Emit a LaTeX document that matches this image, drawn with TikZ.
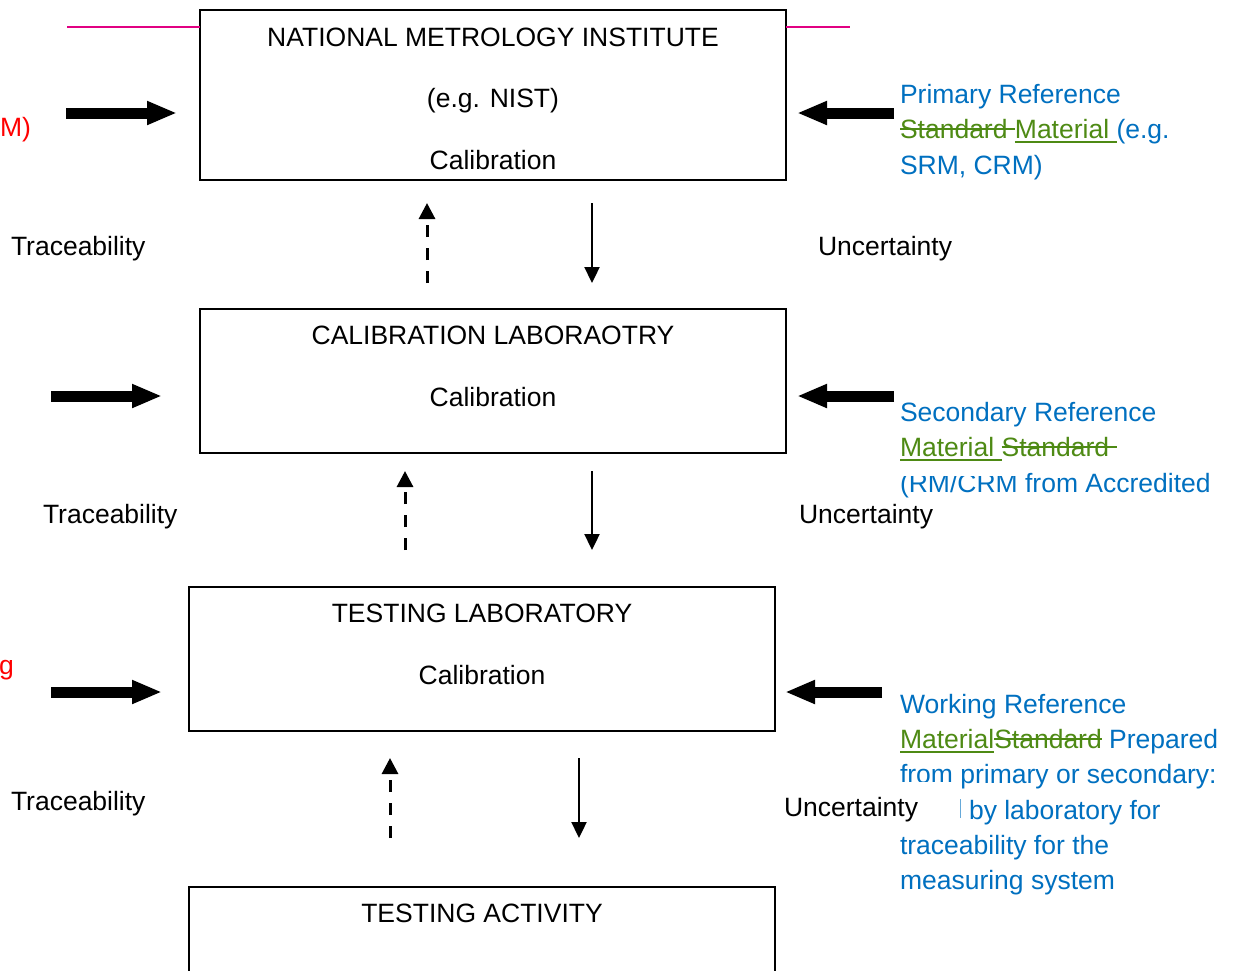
\documentclass[tikz,border=0pt]{standalone}
\usepackage{fontspec}
\setmainfont{Liberation Sans}
\usetikzlibrary{arrows.meta}
\definecolor{refblue}{RGB}{0,112,192}
\definecolor{refgreen}{RGB}{78,138,20}
\definecolor{refpink}{RGB}{225,0,130}
\definecolor{refred}{RGB}{255,0,0}
\newcommand\mystrike[1]{\setbox0\hbox{#1}\rlap{\raisebox{0.3em}{\rule{\wd0}{0.06em}}}\box0}
\newcommand\myunder[1]{\setbox0\hbox{#1}\rlap{\raisebox{-0.17em}{\rule{\wd0}{0.06em}}}\box0}
\begin{document}
\begin{tikzpicture}[x=1pt,y=-1pt,
  every node/.style={inner sep=0pt,outer sep=0pt,font=\fontsize{26.5}{35.5}\selectfont},
  box/.style={draw=black,line width=1.6pt,inner sep=0pt},
  txt/.style={anchor=base},
  ltxt/.style={anchor=base west},
  blue/.style={anchor=base west,text=refblue},
  bigarrow/.style={line width=11pt,-{Triangle[length=30pt,width=22pt]}},
  dasharrow/.style={line width=3pt,dash pattern=on 12pt off 11pt,-{Triangle[length=16pt,width=16pt]}},
  solidarrow/.style={line width=2.3pt,-{Triangle[length=16pt,width=15pt]}},
]
\useasboundingbox (0,0) rectangle (1238,970);
\fill[white] (0,0) rectangle (1238,970);

% boxes
\node[box,minimum width=586pt,minimum height=170pt,anchor=north west] (b1) at (200,10) {};
\node[box,minimum width=586pt,minimum height=144pt,anchor=north west] (b2) at (200,309) {};
\node[box,minimum width=586pt,minimum height=144pt,anchor=north west] (b3) at (189,587) {};
\begin{scope}
\clip (0,0) rectangle (1238,970);
\node[box,minimum width=586pt,minimum height=120pt,anchor=north west] (b4) at (189,887) {};
\end{scope}

% box texts
\node[txt] (t1a) at (493,46) {NATIONAL METROLOGY INSTITUTE};
\node[txt] (t1b) at (493,107) {(e.g. NIST)};
\node[txt] (t1c) at (493,169) {Calibration};
\node[txt] (t2a) at (493,344) {CALIBRATION LABORAOTRY};
\node[txt] (t2b) at (493,406) {Calibration};
\node[txt] (t3a) at (482,622) {TESTING LABORATORY};
\node[txt] (t3b) at (482,684) {Calibration};
\node[txt] (t4a) at (482,922) {TESTING ACTIVITY};

% pink lines
\coordinate (p1) at (67,27);
\coordinate (p2) at (850,27);
\draw[refpink,line width=2pt] (p1) -- (p1 -| b1.west);
\draw[refpink,line width=2pt] (p1 -| b1.east) -- (p2);

% red partial texts
\node[anchor=base west,text=refred] (r1) at (0,136) {M)};
\node[anchor=base west,text=refred] (r3) at (-1,674) {g};

% thick arrows
\coordinate (la1) at (66,113);  \coordinate (la1e) at (177,113);
\coordinate (ra1) at (894,113); \coordinate (ra1e) at (797,113);
\coordinate (la2) at (51,396);  \coordinate (la2e) at (162,396);
\coordinate (ra2) at (894,396); \coordinate (ra2e) at (797,396);
\coordinate (la3) at (51,692);  \coordinate (la3e) at (162,692);
\coordinate (ra3) at (882,692); \coordinate (ra3e) at (785,692);
\draw[bigarrow] (la1) -- (la1e);
\draw[bigarrow] (ra1) -- (ra1e);
\draw[bigarrow] (la2) -- (la2e);
\draw[bigarrow] (ra2) -- (ra2e);
\draw[bigarrow] (la3) -- (la3e);
\draw[bigarrow] (ra3) -- (ra3e);

% vertical arrows
\coordinate (u1s) at (427,283); \coordinate (u1e) at (427,203);
\coordinate (d1s) at (592,203); \coordinate (d1e) at (592,283);
\coordinate (u2s) at (405,550); \coordinate (u2e) at (405,471);
\coordinate (d2s) at (592,471); \coordinate (d2e) at (592,550);
\coordinate (u3s) at (390,838); \coordinate (u3e) at (390,758);
\coordinate (d3s) at (579,758); \coordinate (d3e) at (579,838);
\draw[dasharrow] (u1s) -- (u1e);
\draw[solidarrow] (d1s) -- (d1e);
\draw[dasharrow] (u2s) -- (u2e);
\draw[solidarrow] (d2s) -- (d2e);
\draw[dasharrow] (u3s) -- (u3e);
\draw[solidarrow] (d3s) -- (d3e);

% side labels
\node[ltxt] (tr1) at (11,255) {Traceability};
\node[ltxt] (un1) at (818,255) {Uncertainty};
\node[ltxt] (tr2) at (43,523) {Traceability};
\node[ltxt] (un2) at (799,523) {Uncertainty};
\node[ltxt] (tr3) at (11,810) {Traceability};
\node[ltxt] (un3) at (784,816) {Uncertainty};

% blue texts
\node[blue] (pr1) at (900,103) {Primary Reference};
\node[blue] (pr2) at (900,138) {\textcolor{refgreen}{\mystrike{Standard\ }\myunder{Material\ }}(e.g.};
\node[blue] (pr3) at (900,174) {SRM, CRM)};

\node[blue] (sr1) at (900,421) {Secondary Reference};
\node[blue] (sr2) at (900,456) {\textcolor{refgreen}{\myunder{Material\ }\mystrike{Standard\ }}};
\begin{scope}
\clip (880,476) rectangle (1020,505) (1020,462) rectangle (1238,505);
\node[blue] (sr3) at (900,492) {(RM/CRM from Accredited};
\end{scope}

\node[blue] (wr1) at (900,713) {Working Reference};
\node[blue] (wr2) at (900,748) {\textcolor{refgreen}{\myunder{Material}\mystrike{Standard}} Prepared};
\begin{scope}
\clip (880,760) rectangle (958,781) (958,760) rectangle (1238,800);
\node[blue] (wr3) at (900,783) {from primary or secondary:};
\end{scope}
\coordinate (bar1) at (960,799);
\coordinate (bar2) at (960,818);
\draw[refblue!60,line width=1pt] (bar1) -- (bar2);
\node[blue] (wr4) at (969,819) {by laboratory for};
\node[blue] (wr5) at (900,854) {traceability for the};
\node[blue] (wr6) at (900,889) {measuring system};
\end{tikzpicture}
\end{document}
